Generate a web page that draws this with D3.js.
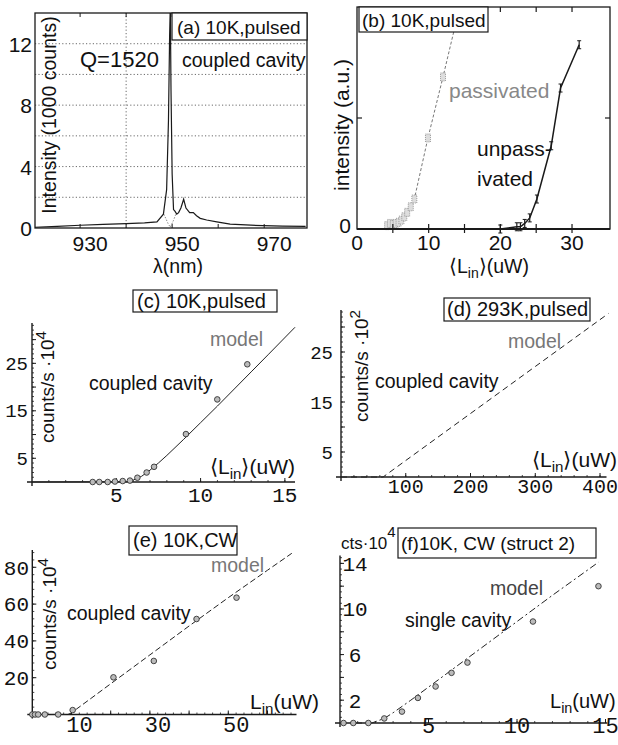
<!DOCTYPE html>
<html>
<head>
<meta charset="utf-8">
<script src="https://cdn.jsdelivr.net/npm/d3@7"></script>
<style>
  body { margin: 0; background: #fff; }
  svg { display: block; }
  text { font-family: "Liberation Sans", Arial, sans-serif; fill: #111; }
  .mono { font-family: "Liberation Mono", "Courier New", monospace; }
</style>
</head>
<body>
<svg id="fig" width="618" height="745"></svg>
<script>
// ---------------- data ----------------
// (a) spectrum, 10K pulsed (1000 counts)
const specLambda = [920.2, 925, 930, 935, 940, 944, 946.7, 948.1, 948.8, 949.2, 949.45, 949.6, 949.75, 950.0, 950.3, 950.6, 951.0, 951.4, 951.9, 952.5, 953.0, 953.8, 954.6, 955.3, 956.1, 957.5, 959.7, 962.6, 966, 969.8, 974, 979];
const specCounts = [0.05, 0.1, 0.18, 0.24, 0.28, 0.33, 0.4, 0.9, 2.5, 7, 12.5, 14.5, 9, 3.5, 1.2, 1.1, 0.9, 1.0, 1.3, 1.87, 1.3, 1.0, 1.0, 0.8, 0.63, 0.52, 0.4, 0.25, 0.2, 0.15, 0.12, 0.1];
const fitLambda = [948.2, 949.1, 949.6, 950.3, 950.8];
const fitCounts = [0.9, 0.3, 0.05, 0.5, 0.9];
const aYLabels = [0, 4, 8, 12];
const aGrid = [2, 4, 6, 8, 10, 12];
const aXLabels = [930, 950, 970];

// (b) intensity vs <L_in>, passivated / unpassivated
const passL = [4.2, 4.6, 5.0, 5.4, 5.8, 6.2, 6.6, 7.0, 7.5, 8.0, 9.9, 12.0, 14.1];
const passI = [0.03, 0.05, 0.04, 0.05, 0.06, 0.08, 0.11, 0.15, 0.2, 0.27, 0.82, 1.37, 1.94];
const unpassL = [20.0, 22.3, 22.8, 23.4, 24.1, 25.1, 27.1, 28.4, 31.0];
const unpassI = [0.0, 0.02, 0.02, 0.05, 0.1, 0.27, 0.75, 1.27, 1.66];
const bXLabels = [0, 10, 20, 30];

// (c) 10K pulsed, counts/s 1e4
const cL = [3.6, 3.99, 4.49, 4.92, 5.38, 5.81, 6.25, 6.8, 7.24, 9.13, 10.99, 12.77];
const cCounts = [0, 0, 0, 0.1, 0.2, 0.3, 0.9, 2.0, 3.2, 10.1, 17.4, 24.8];
const cModelL = [0, 5.6, 6.0, 6.5, 7.0, 7.5, 8, 9, 10, 11, 12, 13, 14, 15.6];
const cModel = [0, 0.05, 0.4, 1.2, 2.5, 4.0, 5.6, 9.0, 12.5, 16.0, 19.6, 23.2, 26.8, 32.6];

// (d) 293K pulsed, counts/s 1e2
const dModelL = [0, 65, 100, 200, 300, 413];
const dModel = [0, 0, 3.3, 12.7, 22.1, 32.7];

// (e) 10K CW, counts/s 1e4
const eL = [0, 0.7, 1.5, 3.2, 6.6, 10.3, 20.7, 31.0, 41.9, 52.1];
const eCounts = [0, 0, 0, 0, 0, 2.4, 20.2, 29.1, 51.9, 63.5];
const eModelL = [0, 9, 10, 11.3, 15, 20, 30, 40, 50, 60, 66.2];
const eModel = [0, 0, 0.8, 3, 8.8, 16.7, 32.4, 48.1, 63.5, 78.4, 87.6];

// (f) 10K CW struct 2, cts 1e4
const fL = [0.2, 0.75, 1.6, 2.5, 3.5, 4.4, 5.4, 6.3, 7.2, 10.9, 14.6];
const fCounts = [0, 0, 0, 0.4, 1.0, 2.2, 3.2, 4.4, 5.3, 8.9, 12.0];
const fModelL = [0, 1.8, 2.5, 3, 4, 6, 8, 10, 12, 14.6];
const fModel = [0, 0, 0.4, 0.9, 2.0, 4.3, 6.6, 8.9, 11.2, 14.1];

// ---------------- drawing ----------------
const svg = d3.select("#fig");
svg.append("rect").attr("width", 618).attr("height", 745).attr("fill", "#fff");
const ink = "#1a1a1a";

function addText(g, x, y, str, size, opts = {}) {
  return g.append("text")
    .attr("x", x).attr("y", y)
    .attr("font-size", size)
    .attr("text-anchor", opts.anchor || "start")
    .style("fill", opts.fill || "#111")
    .text(str);
}

function boxLabel(g, x, y, w, h, str, size, tx, ty) {
  g.append("rect").attr("x", x).attr("y", y).attr("width", w).attr("height", h)
    .attr("fill", "#fff").attr("stroke", ink).attr("stroke-width", 1.2);
  addText(g, tx, ty, str, size);
}

// <L_in>(uW) style label
function linLabel(g, x, y, size, brackets) {
  const t = g.append("text").attr("x", x).attr("y", y).attr("font-size", size);
  t.append("tspan").text(brackets ? "\u27E8L" : "L");
  t.append("tspan").attr("dy", 5).attr("font-size", size * 0.72).text("in");
  t.append("tspan").attr("dy", -5).text(brackets ? "\u27E9(uW)" : "(uW)");
  return t;
}

function yTitle(g, x, y, main, sup, size) {
  const t = g.append("text")
    .attr("transform", `translate(${x},${y}) rotate(-90)`)
    .attr("text-anchor", "middle").attr("font-size", size);
  t.append("tspan").text(main);
  if (sup) t.append("tspan").attr("dy", -8).attr("font-size", size * 0.8).text(sup);
  return t;
}

/* ---------- panel (a) ---------- */
(function panelA() {
  const x = d3.scaleLinear().domain([920.2, 979.3]).range([35, 307]);
  const y = d3.scaleLinear().domain([0, 14]).range([228, 13]);
  const g = svg.append("g");

  g.append("clipPath").attr("id", "clipA").append("rect")
    .attr("x", 35).attr("y", 13).attr("width", 272).attr("height", 215);

  // dotted grid
  g.selectAll(".ga").data(aGrid).join("line")
    .attr("x1", x.range()[0]).attr("x2", x.range()[1])
    .attr("y1", d => y(d)).attr("y2", d => y(d))
    .attr("stroke", "#444").attr("stroke-width", 0.8).attr("stroke-dasharray", "1.2,2.2");
  g.append("line")
    .attr("x1", x(940)).attr("x2", x(940)).attr("y1", y.range()[0]).attr("y2", y.range()[1])
    .attr("stroke", "#444").attr("stroke-width", 0.8).attr("stroke-dasharray", "1.2,2.2");

  // spectrum + fit
  const line = d3.line().x(d => x(d[0])).y(d => y(d[1]));
  g.append("path").datum(d3.zip(fitLambda, fitCounts))
    .attr("d", line).attr("fill", "none").attr("stroke", "#888")
    .attr("stroke-width", 1).attr("stroke-dasharray", "1.5,1.5").attr("clip-path", "url(#clipA)");
  g.append("path").datum(d3.zip(specLambda, specCounts))
    .attr("d", line).attr("fill", "none").attr("stroke", ink)
    .attr("stroke-width", 1.2).attr("clip-path", "url(#clipA)");

  // frame
  g.append("rect").attr("x", 35).attr("y", 13).attr("width", 272).attr("height", 215)
    .attr("fill", "none").attr("stroke", ink).attr("stroke-width", 1.3);

  // x ticks (bottom and top)
  const xt = d3.range(930, 980, 10);
  g.selectAll(".xt").data(xt).join("line")
    .attr("x1", d => x(d)).attr("x2", d => x(d))
    .attr("y1", y(0)).attr("y2", y(0) - 4)
    .attr("stroke", ink);
  g.selectAll(".xtt").data(xt).join("line")
    .attr("x1", d => x(d)).attr("x2", d => x(d))
    .attr("y1", y(14)).attr("y2", y(14) + 4)
    .attr("stroke", ink);
  g.selectAll(".xl").data(aXLabels).join("text")
    .attr("x", d => x(d) + 10).attr("y", 251)
    .attr("text-anchor", "middle").attr("font-size", 21)
    .text(d => d);

  // y labels
  g.selectAll(".yl").data(aYLabels).join("text")
    .attr("x", 32).attr("y", d => y(d) + 8)
    .attr("text-anchor", "end").attr("font-size", 21)
    .text(d => d);

  addText(g, 178, 273, "\u03BB(nm)", 19.5, { anchor: "middle" });
  yTitle(g, 56, 115, "Intensity (1000 counts)", null, 19.5);

  boxLabel(g, 172, 13, 135, 27, "(a) 10K,pulsed", 19, 177, 34);
  addText(g, 80, 67, "Q=1520", 22);
  addText(g, 182, 67, "coupled cavity", 19.5);
})();

/* ---------- panel (b) ---------- */
(function panelB() {
  const x = d3.scaleLinear().domain([0, 35.3]).range([357, 610]);
  const y = d3.scaleLinear().domain([0, 2]).range([229, 7]);
  const g = svg.append("g");

  g.append("clipPath").attr("id", "clipB").append("rect")
    .attr("x", 357).attr("y", 7).attr("width", 253).attr("height", 222);

  const line = d3.line().x(d => x(d[0])).y(d => y(d[1]));

  // passivated (gray squares, dashed)
  const pass = d3.zip(passL, passI);
  g.append("path").datum(pass).attr("d", line).attr("fill", "none")
    .attr("stroke", "#777").attr("stroke-width", 1).attr("stroke-dasharray", "3,2")
    .attr("clip-path", "url(#clipB)");
  g.selectAll(".pm").data(pass).join("rect")
    .attr("x", d => x(d[0]) - 2.5).attr("y", d => y(d[1]) - 4)
    .attr("width", 5).attr("height", 8)
    .attr("fill", "#ddd").attr("stroke", "#888").attr("stroke-width", 0.8)
    .attr("stroke-dasharray", "1,1");

  // unpassivated (black, solid, error bars)
  const unp = d3.zip(unpassL, unpassI);
  g.append("path").datum(unp).attr("d", line).attr("fill", "none")
    .attr("stroke", ink).attr("stroke-width", 1.5);
  const eb = g.selectAll(".eb").data(unp).join("g")
    .attr("transform", d => `translate(${x(d[0])},${y(d[1])})`);
  eb.append("line").attr("y1", -4).attr("y2", 4).attr("stroke", ink).attr("stroke-width", 1.2);
  eb.append("line").attr("x1", -2).attr("x2", 2).attr("y1", -4).attr("y2", -4).attr("stroke", ink);
  eb.append("line").attr("x1", -2).attr("x2", 2).attr("y1", 4).attr("y2", 4).attr("stroke", ink);

  // frame
  g.append("rect").attr("x", 357).attr("y", 7).attr("width", 253).attr("height", 222)
    .attr("fill", "none").attr("stroke", ink).attr("stroke-width", 1.3);
  g.append("line").attr("x1", 357).attr("x2", 610).attr("y1", y(0)).attr("y2", y(0))
    .attr("stroke", ink).attr("stroke-width", 2);

  const xt = d3.range(5, 35, 5);
  g.selectAll(".bt").data(xt).join("line")
    .attr("x1", d => x(d)).attr("x2", d => x(d)).attr("y1", y(0) - 5).attr("y2", y(0) + 4)
    .attr("stroke", ink).attr("stroke-width", 1.2);
  g.selectAll(".tt").data(xt).join("line")
    .attr("x1", d => x(d)).attr("x2", d => x(d)).attr("y1", y(2)).attr("y2", y(2) + 5)
    .attr("stroke", ink).attr("stroke-width", 1.2);
  g.selectAll(".yt").data([x.range()[0], x.range()[1]]).join("line")
    .attr("x1", d => d).attr("x2", (d, i) => i ? d - 5 : d + 5)
    .attr("y1", y(1)).attr("y2", y(1)).attr("stroke", ink).attr("stroke-width", 1.2);

  g.selectAll(".xl").data(bXLabels).join("text")
    .attr("x", d => x(d)).attr("y", 250)
    .attr("text-anchor", "middle").attr("font-size", 21)
    .text(d => d);
  addText(g, 351, y(0) + 4, "0", 21, { anchor: "end" });

  linLabel(g, 449, 273, 19.5, true);
  yTitle(g, 349, 125, "intensity (a.u.)", null, 21);

  boxLabel(g, 359, 7, 129, 25, "(b) 10K,pulsed", 19, 362, 27);
  addText(g, 449, 98, "passivated", 21, { fill: "#888" });
  addText(g, 477, 156, "unpass-", 21);
  addText(g, 477, 186, "ivated", 21);
})();

/* ---------- panels (c)-(f) ---------- */
function lPanel(c) {
  const x = d3.scaleLinear().domain(c.xDomain).range(c.xRange);
  const y = d3.scaleLinear().domain(c.yDomain).range(c.yRange);
  const g = svg.append("g");
  const x0 = x(0), y0 = y(0);

  // axes
  g.append("line").attr("x1", x0 - 5).attr("x2", x.range()[1]).attr("y1", y0).attr("y2", y0)
    .attr("stroke", ink).attr("stroke-width", 1.4);
  g.append("line").attr("x1", x0).attr("x2", x0).attr("y1", y0 + 4).attr("y2", y.range()[1])
    .attr("stroke", ink).attr("stroke-width", 1.4);

  // ticks
  g.selectAll(".xmi").data(d3.range(c.xMinor, c.xDomain[1], c.xMinor)).join("line")
    .attr("x1", d => x(d)).attr("x2", d => x(d)).attr("y1", y0).attr("y2", y0 - 2)
    .attr("stroke", ink).attr("stroke-width", 0.8);
  g.selectAll(".xma").data(d3.range(c.xMajor, c.xDomain[1], c.xMajor)).join("line")
    .attr("x1", d => x(d)).attr("x2", d => x(d)).attr("y1", y0).attr("y2", y0 - 4)
    .attr("stroke", ink).attr("stroke-width", 1);
  g.selectAll(".ymi").data(d3.range(c.yMinor, c.yDomain[1], c.yMinor)).join("line")
    .attr("x1", x0).attr("x2", x0 + 2).attr("y1", d => y(d)).attr("y2", d => y(d))
    .attr("stroke", ink).attr("stroke-width", 0.8);
  g.selectAll(".yma").data(d3.range(c.yMajor, c.yDomain[1], c.yMajor)).join("line")
    .attr("x1", x0).attr("x2", x0 + 4).attr("y1", d => y(d)).attr("y2", d => y(d))
    .attr("stroke", ink).attr("stroke-width", 1);

  // model
  const line = d3.line().x(d => x(d[0])).y(d => y(d[1]));
  g.append("path").datum(d3.zip(c.modelL, c.model)).attr("d", line)
    .attr("fill", "none").attr("stroke", "#222").attr("stroke-width", 1)
    .attr("stroke-dasharray", c.dash || null);

  // data points
  if (c.ptL) {
    g.selectAll(".pt").data(d3.zip(c.ptL, c.pt)).join("circle")
      .attr("cx", d => x(d[0])).attr("cy", d => y(d[1])).attr("r", 2.8)
      .attr("fill", "#bbb").attr("stroke", "#333").attr("stroke-width", 0.9);
  }

  // tick labels
  g.selectAll(".xl").data(c.xLabels).join("text").attr("class", "mono")
    .attr("x", d => x(d) + (c.xLabelDx || 0)).attr("y", c.xLabelY)
    .attr("text-anchor", "middle").attr("font-size", c.xLabelSize)
    .text(d => d);
  g.selectAll(".yl").data(c.yLabels).join("text").attr("class", "mono")
    .attr("x", c.yLabelX).attr("y", d => y(d) + c.yLabelSize * 0.35)
    .attr("text-anchor", c.yLabelAnchor || "end").attr("font-size", c.yLabelSize)
    .text(d => d);

  // texts
  if (c.box) boxLabel(g, ...c.box);
  addText(g, c.model_txt[0], c.model_txt[1], "model", 19.5, { fill: c.modelFill || "#777" });
  addText(g, c.cav_txt[0], c.cav_txt[1], c.cavity, 19.5);
  linLabel(g, c.lin[0], c.lin[1], c.linSize || 21, c.brackets);
  if (c.ytitle) yTitle(g, c.ytitle[0], c.ytitle[1], "counts/s \u00B710", c.ytitle[2], 19);
  return g;
}

lPanel({
  xDomain: [0, 15.6], xRange: [32, 295], yDomain: [0, 33.5], yRange: [482, 323],
  xMinor: 1, xMajor: 5, yMinor: 1, yMajor: 5,
  modelL: cModelL, model: cModel, ptL: cL, pt: cCounts,
  xLabels: [5, 10, 15], xLabelY: 502, xLabelSize: 21,
  yLabels: [5, 15, 25], yLabelX: 28, yLabelSize: 19,
  box: [133, 290, 144, 22, "(c) 10K,pulsed", 20, 137, 308],
  model_txt: [210, 346], cav_txt: [89, 390], cavity: "coupled cavity",
  lin: [210, 474], brackets: true, ytitle: [54, 387, "4"]
});

lPanel({
  xDomain: [0, 410], xRange: [341, 606.5], yDomain: [0, 33.4], yRange: [477, 310],
  xMinor: 20, xMajor: 100, yMinor: 1, yMajor: 5, dash: "6,4",
  modelL: dModelL, model: dModel,
  xLabels: [100, 200, 300, 400], xLabelY: 493, xLabelSize: 20,
  yLabels: [5, 15, 25], yLabelX: 333, yLabelSize: 19,
  box: [444, 298, 146, 23, "(d) 293K,pulsed", 20, 447, 316],
  model_txt: [508, 348], cav_txt: [375, 388], cavity: "coupled cavity",
  lin: [532, 467], brackets: true, ytitle: [368, 366, "2"]
});

lPanel({
  xDomain: [0, 67.4], xRange: [32.3, 296.5], yDomain: [0, 89.4], yRange: [714.5, 550],
  xMinor: 2, xMajor: 10, yMinor: 4, yMajor: 20, dash: "6,3", xLabelDx: 8,
  modelL: eModelL, model: eModel, ptL: eL, pt: eCounts,
  xLabels: [10, 30, 50], xLabelY: 732, xLabelSize: 22,
  yLabels: [20, 40, 60, 80], yLabelX: 29, yLabelSize: 21,
  box: [129, 526, 108, 29, "(e) 10K,CW", 20, 133, 547],
  model_txt: [211, 572], cav_txt: [67, 620], cavity: "coupled cavity",
  lin: [250, 709], brackets: false, ytitle: [56, 614, "4"]
});

const gf = lPanel({
  xDomain: [0, 15.1], xRange: [340, 607.3], yDomain: [0, 14.7], yRange: [723, 555.4],
  xMinor: 1, xMajor: 5, yMinor: 0.5, yMajor: 2, dash: "7,3,2,3",
  modelL: fModelL, model: fModel, ptL: fL, pt: fCounts,
  xLabels: [5, 10, 15], xLabelY: 733, xLabelSize: 22,
  yLabels: [2, 6, 10, 14], yLabelX: 355, yLabelSize: 21, yLabelAnchor: "middle",
  box: [398, 528, 198, 30, "(f)10K, CW (struct 2)", 19, 401, 550],
  model_txt: [490, 595], modelFill: "#444", cav_txt: [405, 627], cavity: "single cavity",
  lin: [550, 708], linSize: 20, brackets: false
});
const cts = gf.append("text").attr("x", 341).attr("y", 549).attr("font-size", 17);
cts.append("tspan").text("cts\u00B710");
cts.append("tspan").attr("dy", -12).attr("font-size", 15).text("4");
</script>
</body>
</html>
